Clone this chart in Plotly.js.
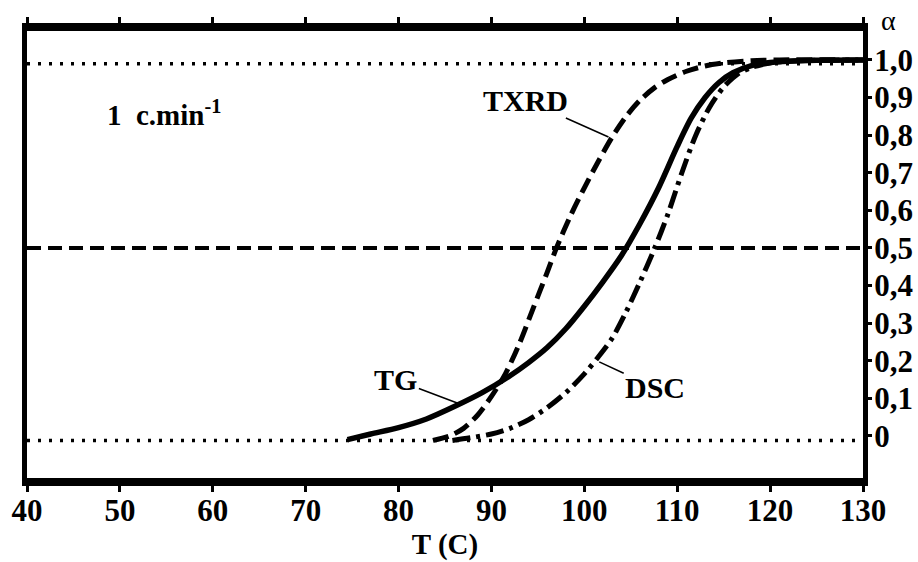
<!DOCTYPE html>
<html><head><meta charset="utf-8">
<script src="https://cdn.plot.ly/plotly-3.0.1.min.js"></script>
<style>html,body{margin:0;padding:0;background:#fff}#chart{width:918px;height:562px}</style>
</head><body><div id="chart"></div>
<script>
// Temperature (C) and conversion alpha
const tgT   = [74.5, 77, 80, 83, 86, 89, 92, 94, 96, 98, 100, 102, 104, 106, 108, 110, 111.5, 113, 114.5, 116, 118, 120, 125, 130];
const tgA   = [-0.01, 0.005, 0.022, 0.045, 0.078, 0.115, 0.16, 0.195, 0.235, 0.285, 0.345, 0.41, 0.48, 0.565, 0.66, 0.77, 0.845, 0.9, 0.94, 0.966, 0.985, 0.993, 0.999, 1.0];
const txrdT = [83.7, 85.5, 87, 88.5, 90, 91.5, 93, 94.5, 96, 97, 98.5, 100, 101.5, 103, 104.5, 106, 107.5, 109, 111, 113, 115, 118, 121, 130];
const txrdA = [-0.012, 0.0, 0.02, 0.055, 0.105, 0.165, 0.245, 0.34, 0.435, 0.5, 0.585, 0.66, 0.73, 0.795, 0.85, 0.893, 0.925, 0.948, 0.97, 0.984, 0.992, 0.998, 1.0, 1.0];
const dscT  = [85.8, 88, 90, 92, 94, 96, 98, 100, 101.5, 103, 104.5, 106, 107.5, 109, 110.5, 112, 113.5, 115, 116.5, 118, 120, 123, 130];
const dscA  = [-0.012, -0.004, 0.005, 0.02, 0.043, 0.075, 0.115, 0.165, 0.21, 0.26, 0.33, 0.41, 0.495, 0.59, 0.70, 0.8, 0.875, 0.928, 0.962, 0.98, 0.992, 0.998, 1.0];
// horizontal reference levels
const refX     = [40, 130];
const refTop   = 0.99;
const refHalf  = 0.5;
const refZero  = -0.012;
// axis ticks
const xTicks   = [40, 50, 60, 70, 80, 90, 100, 110, 120, 130];
const yTickVals = [0, 0.1, 0.2, 0.3, 0.4, 0.5, 0.6, 0.7, 0.8, 0.9, 1.0];
const yTickText = ['0', '0,1', '0,2', '0,3', '0,4', '0,5', '0,6', '0,7', '0,8', '0,9', '1,0'];

const SERIF = 'Liberation Serif, serif';
const blk = '#000';

const traces = [
  {x: refX, y: [refTop, refTop], mode: 'lines', line: {color: blk, width: 3.5, dash: '3px,8px'}, hoverinfo: 'skip'},
  {x: refX, y: [refZero, refZero], mode: 'lines', line: {color: blk, width: 3.5, dash: '3px,8px'}, hoverinfo: 'skip'},
  {x: refX, y: [refHalf, refHalf], mode: 'lines', line: {color: blk, width: 4, dash: '14px,7px'}, hoverinfo: 'skip'},
  {x: txrdT, y: txrdA, mode: 'lines', line: {color: blk, width: 5, dash: '16px,7px', shape: 'spline', smoothing: 0.8}, name: 'TXRD'},
  {x: dscT, y: dscA, mode: 'lines', line: {color: blk, width: 5, dash: '18px,6px,4px,6px', shape: 'spline', smoothing: 0.8}, name: 'DSC'},
  {x: tgT, y: tgA, mode: 'lines', line: {color: blk, width: 5.5, shape: 'spline', smoothing: 0.8}, name: 'TG'}
];

const labFont = {family: SERIF, size: 30, color: blk, weight: 'bold'};
const layout = {
  width: 918, height: 562,
  margin: {l: 27, r: 55, t: 31, b: 84},
  paper_bgcolor: '#fff', plot_bgcolor: '#fff',
  showlegend: false,
  font: {family: SERIF, color: blk},
  xaxis: {
    range: [40, 130], tickvals: xTicks, ticktext: xTicks.map(String),
    showgrid: false, zeroline: false,
    showline: true, linecolor: blk, linewidth: 8, mirror: 'ticks',
    ticks: 'outside', ticklen: 6, tickwidth: 3, tickcolor: blk,
    ticklabelstandoff: -8,
    tickfont: {family: SERIF, size: 31, color: blk, weight: 'bold'},
    title: {text: 'T (C)', font: {family: SERIF, size: 29, color: blk, weight: 'bold'}, standoff: 4}
  },
  yaxis: {
    range: [-0.112, 1.077], side: 'right', tickvals: yTickVals, ticktext: yTickText,
    showgrid: false, zeroline: false,
    showline: true, linecolor: blk, linewidth: 5, mirror: true,
    ticks: 'outside', ticklen: 4, tickwidth: 3, tickcolor: blk,
    ticklabelstandoff: -4,
    tickfont: {family: SERIF, size: 31, color: blk, weight: 'bold'}
  },
  annotations: [
    {x: 102.6, y: 0.795, xref: 'x', yref: 'y', text: 'TXRD', showarrow: true, arrowhead: 0, arrowwidth: 1.5, arrowcolor: blk, ax: -83, ay: -37, font: labFont},
    {x: 86.6, y: 0.085, xref: 'x', yref: 'y', text: 'TG', showarrow: true, arrowhead: 0, arrowwidth: 1.5, arrowcolor: blk, ax: -64, ay: -24, font: labFont},
    {x: 101.6, y: 0.197, xref: 'x', yref: 'y', text: 'DSC', showarrow: true, arrowhead: 0, arrowwidth: 1.5, arrowcolor: blk, ax: 56, ay: 26, font: labFont},
    {x: 54.8, y: 0.859, xref: 'x', yref: 'y', text: '1  c.min<sup>-1</sup>', showarrow: false, xanchor: 'center', yanchor: 'middle', font: {family: SERIF, size: 29, color: blk, weight: 'bold'}},
    {x: 0, y: 0, xref: 'paper', yref: 'paper', text: 'α', showarrow: false, xanchor: 'center', yanchor: 'middle', font: {family: SERIF, size: 28, color: blk}}
  ]
};
// alpha label position in pixels -> paper coords
layout.annotations[4].x = (888 - 27) / (918 - 27 - 55);
layout.annotations[4].y = 1 + (31 - 20) / (562 - 31 - 84);

Plotly.newPlot('chart', traces, layout, {staticPlot: true, displayModeBar: false});
</script></body></html>
